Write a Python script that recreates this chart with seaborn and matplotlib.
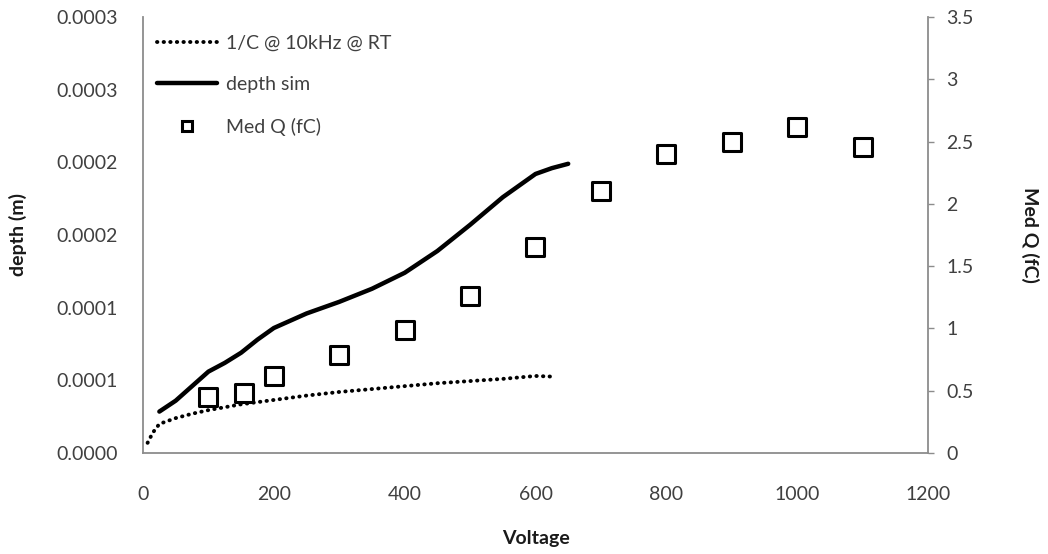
import numpy as np
import pandas as pd
import seaborn as sns
import matplotlib.pyplot as plt
from matplotlib.lines import Line2D

# 1/C @ 10kHz @ RT (left axis, depth in m)
cv_voltage = [7, 15, 25, 50, 75, 100, 150, 200, 250, 300, 350, 400, 450, 500, 550, 600, 630]
cv_depth = [7e-6, 1.4e-5, 2.0e-5, 2.4e-5, 2.7e-5, 2.95e-5, 3.35e-5, 3.65e-5, 3.95e-5,
            4.2e-5, 4.4e-5, 4.6e-5, 4.8e-5, 4.95e-5, 5.1e-5, 5.3e-5, 5.25e-5]

# depth sim (left axis)
sim_voltage = [25, 50, 75, 100, 125, 150, 175, 200, 250, 300, 350, 400, 450, 500, 550, 600, 625, 650]
sim_depth = [2.85e-5, 3.6e-5, 4.6e-5, 5.6e-5, 6.2e-5, 6.9e-5, 7.8e-5, 8.6e-5, 9.6e-5,
             1.04e-4, 1.13e-4, 1.24e-4, 1.39e-4, 1.57e-4, 1.76e-4, 1.92e-4, 1.96e-4, 1.99e-4]

# Med Q (fC) (right axis)
q_voltage = [100, 155, 200, 300, 400, 500, 600, 700, 800, 900, 1000, 1100]
q_charge = [0.45, 0.48, 0.62, 0.79, 0.99, 1.26, 1.65, 2.10, 2.40, 2.50, 2.62, 2.46]

left_ticks = [0, 0.00005, 0.0001, 0.00015, 0.0002, 0.00025, 0.0003]
left_tick_labels = ["0.0000", "0.0001", "0.0001", "0.0002", "0.0002", "0.0003", "0.0003"]
right_ticks = [0, 0.5, 1, 1.5, 2, 2.5, 3, 3.5]
right_tick_labels = ["0", "0.5", "1", "1.5", "2", "2.5", "3", "3.5"]
x_ticks = [0, 200, 400, 600, 800, 1000, 1200]

sns.set_style("white")
plt.rcParams['font.family'] = ['Lato', 'DejaVu Sans']

cv_df = pd.DataFrame({'Voltage': cv_voltage, 'depth': cv_depth})
sim_df = pd.DataFrame({'Voltage': sim_voltage, 'depth': sim_depth})
q_df = pd.DataFrame({'Voltage': q_voltage, 'MedQ': q_charge})

text_col = '#404040'
axis_col = '#8c8c8c'
dots = (0, (0.1, 1.6))

fig = plt.figure(figsize=(10.48, 5.54), dpi=100)
ax = fig.add_axes([143 / 1048, 1 - 453 / 554, 785 / 1048, 436 / 554])
ax2 = ax.twinx()

sns.lineplot(data=cv_df, x='Voltage', y='depth', ax=ax, color='black',
             linewidth=2.8, linestyle=dots, dash_capstyle='round')
sns.lineplot(data=sim_df, x='Voltage', y='depth', ax=ax, color='black', linewidth=3.2)
sns.scatterplot(data=q_df, x='Voltage', y='MedQ', ax=ax2, marker='s', s=150,
                facecolor='white', edgecolor='black', linewidth=2.2, zorder=3)

ax.set_xlim(0, 1200)
ax.set_ylim(0, 0.0003)
ax2.set_ylim(0, 3.5)
ax.set_xticks(x_ticks)
ax.set_yticks(left_ticks)
ax.set_yticklabels(left_tick_labels)
ax2.set_yticks(right_ticks)
ax2.set_yticklabels(right_tick_labels)

for a in (ax, ax2):
    for side in ('left', 'right', 'bottom'):
        a.spines[side].set_color(axis_col)
        a.spines[side].set_linewidth(1.3)
    a.spines['top'].set_visible(False)
ax.spines['right'].set_visible(False)
ax2.spines['left'].set_visible(False)
ax2.spines['bottom'].set_visible(False)

ax.tick_params(axis='y', length=0, pad=18, labelsize=14, colors=text_col)
ax.tick_params(axis='x', length=0, pad=24, labelsize=14, colors=text_col)
ax2.tick_params(axis='y', direction='out', length=4.3, width=1, color=axis_col,
                pad=9, labelsize=14, labelcolor=text_col)

ax.set_xlabel("Voltage", fontsize=14, fontweight='bold', labelpad=19, color='#1a1a1a')
ax.set_ylabel("depth (m)", fontsize=14, fontweight='bold', labelpad=21, color='#1a1a1a')
ax2.set_ylabel("Med Q (fC)", fontsize=14, fontweight='bold', rotation=270,
               labelpad=47, color='#1a1a1a')

handles = [
    Line2D([], [], color='black', linewidth=2.8, linestyle=dots, dash_capstyle='round'),
    Line2D([], [], color='black', linewidth=3.2),
    Line2D([], [], color='none', marker='s', markersize=7.5, markerfacecolor='white',
           markeredgecolor='black', markeredgewidth=2.2),
]
labels = ["1/C @ 10kHz @ RT", "depth sim", "Med Q (fC)"]
ax2.legend(handles, labels, loc='upper left', bbox_to_anchor=(157 / 1048, 1 - 35 / 554),
           bbox_transform=fig.transFigure, frameon=False, borderpad=0, borderaxespad=0,
           fontsize=14, handlelength=3.1, handletextpad=0.45, labelspacing=1.25,
           labelcolor=text_col)

plt.savefig('out.png', dpi=100)
